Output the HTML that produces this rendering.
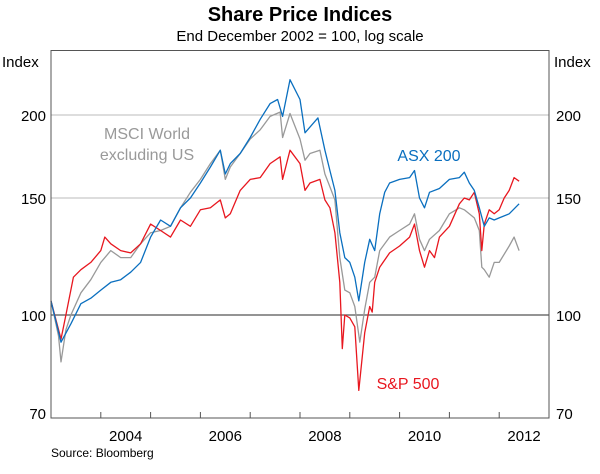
<!DOCTYPE html>
<html><head><meta charset="utf-8"><style>
body{margin:0;background:#fff;}
svg text{font-family:"Liberation Sans",Arial,sans-serif;}
</style></head><body>
<svg id="chart" width="600" height="469" viewBox="0 0 600 469" xmlns="http://www.w3.org/2000/svg">
<text x="300" y="21" text-anchor="middle" font-size="20" font-weight="bold" fill="#000">Share Price Indices</text>
<text x="300" y="41" text-anchor="middle" font-size="15" fill="#000">End December 2002 = 100, log scale</text>
<text x="2" y="67" font-size="15" fill="#000">Index</text>
<text x="554" y="67" font-size="15" fill="#000">Index</text>
<text x="51" y="457" font-size="12" fill="#000">Source: Bloomberg</text>
<g id="grid"></g>
<g id="series"></g>
<rect x="51" y="50.5" width="498" height="367.5" fill="none" stroke="#555" stroke-width="1"/>
<g id="axes"></g>
<text x="147" y="139" text-anchor="middle" font-size="16" fill="#999">MSCI World</text>
<text x="147" y="160" text-anchor="middle" font-size="16" fill="#999">excluding US</text>
<text x="429" y="161" text-anchor="middle" font-size="16" fill="#0a6fbf">ASX 200</text>
<text x="408" y="389" text-anchor="middle" font-size="16" fill="#e8171f">S&amp;P 500</text>
</svg>
<script>
const yTicks=[70,100,150,200];
const xTickYears=[2004,2005,2006,2007,2008,2009,2010,2011,2012];
const xLabelYears=[2004,2006,2008,2010,2012];
const asxT=[2003.0,2003.2,2003.4,2003.6,2003.8,2004.0,2004.2,2004.4,2004.6,2004.8,2005.0,2005.2,2005.4,2005.6,2005.8,2006.0,2006.2,2006.4,2006.5,2006.6,2006.8,2007.0,2007.2,2007.4,2007.55,2007.65,2007.8,2008.0,2008.1,2008.36,2008.5,2008.6,2008.7,2008.8,2008.9,2009.0,2009.1,2009.18,2009.3,2009.4,2009.5,2009.6,2009.7,2009.8,2010.0,2010.2,2010.3,2010.4,2010.5,2010.6,2010.8,2011.0,2011.2,2011.3,2011.4,2011.5,2011.6,2011.7,2011.8,2011.9,2012.0,2012.2,2012.4];
const asxV=[105,91,97,104,106,109,112,113,116,120,131,139,136,145,150,158,167,177,163,169,175,185,197,208,211,199,226,211,188,198,177,165,154,133,122,120,114,105,120,130,125,142,153,158,160,161,165,150,145,153,155,160,161,164,158,154,145,136,140,139,140,142,147];
const spT=[2003.0,2003.2,2003.3,2003.45,2003.6,2003.8,2004.0,2004.08,2004.2,2004.4,2004.6,2004.8,2005.0,2005.2,2005.4,2005.6,2005.8,2006.0,2006.2,2006.4,2006.5,2006.6,2006.8,2007.0,2007.2,2007.4,2007.6,2007.65,2007.8,2008.0,2008.1,2008.2,2008.4,2008.5,2008.6,2008.7,2008.8,2008.85,2008.9,2009.0,2009.1,2009.18,2009.3,2009.4,2009.45,2009.5,2009.6,2009.8,2010.0,2010.2,2010.3,2010.4,2010.5,2010.6,2010.7,2010.8,2011.0,2011.2,2011.3,2011.4,2011.5,2011.6,2011.65,2011.7,2011.8,2011.9,2012.0,2012.1,2012.2,2012.3,2012.4];
const spV=[105,92,100,114,117,120,125,131,128,125,124,128,137,134,131,139,136,144,145,149,140,142,154,160,161,169,173,160,177,169,154,158,160,149,145,133,112,89,100,99,96,77,94,103,101,112,118,124,127,131,137,125,118,125,122,131,136,147,150,149,153,142,125,137,144,142,144,150,154,161,159];
const msT=[2003.0,2003.15,2003.2,2003.3,2003.4,2003.6,2003.8,2004.0,2004.2,2004.4,2004.6,2004.8,2005.0,2005.2,2005.4,2005.6,2005.8,2006.0,2006.2,2006.4,2006.5,2006.6,2006.8,2007.0,2007.2,2007.4,2007.6,2007.65,2007.8,2008.0,2008.1,2008.2,2008.4,2008.5,2008.6,2008.7,2008.8,2008.9,2009.0,2009.1,2009.2,2009.3,2009.4,2009.5,2009.6,2009.8,2010.0,2010.2,2010.3,2010.4,2010.5,2010.6,2010.8,2011.0,2011.2,2011.3,2011.5,2011.6,2011.65,2011.7,2011.8,2011.9,2012.0,2012.2,2012.3,2012.4];
const msV=[105,93,85,95,100,108,113,120,125,122,122,128,133,134,136,145,153,160,169,177,160,167,175,184,190,199,202,185,201,184,171,175,177,163,156,149,122,109,108,103,91,102,112,114,125,131,134,137,142,130,125,130,134,142,145,144,140,134,118,117,114,120,120,127,131,125];

const NS='http://www.w3.org/2000/svg';
const X0=51,X1=549,Y100=315,K=288.6;
const xs=t=>X0+(t-2003)*(X1-X0)/10;
const ys=v=>Y100-Math.log(v/100)*K;
const grid=document.getElementById('grid'),axes=document.getElementById('axes'),ser=document.getElementById('series');
yTicks.forEach(v=>{
  const y=ys(v);
  if(v!==70){
    const l=document.createElementNS(NS,'line');
    
    
    l.setAttribute('x1',X0);l.setAttribute('x2',X1);l.setAttribute('y1',y);l.setAttribute('y2',y);
    l.setAttribute('stroke',v===100?'#555':'#bbb');l.setAttribute('stroke-width',v===100?1.3:1);
    grid.appendChild(l);
  }
  [[46,'end','left'],[556,'start','right']].forEach(([x,a,s])=>{
    const t=document.createElementNS(NS,'text');
    
    
    t.setAttribute('x',x);t.setAttribute('y',Math.min(y,413)+6);t.setAttribute('text-anchor',a);
    t.setAttribute('font-size','15');t.textContent=v;axes.appendChild(t);
  });
});
xTickYears.forEach(yr=>{
  const x=xs(yr);
  const l=document.createElementNS(NS,'line');
  
  
  l.setAttribute('x1',x);l.setAttribute('x2',x);l.setAttribute('y1',418);l.setAttribute('y2',412);
  l.setAttribute('stroke','#555');axes.appendChild(l);
});
xLabelYears.forEach(yr=>{
  const t=document.createElementNS(NS,'text');
  
  
  t.setAttribute('x',xs(yr+0.5));t.setAttribute('y',441);t.setAttribute('text-anchor','middle');
  t.setAttribute('font-size','15');t.textContent=yr;axes.appendChild(t);
});
function line(T,V,col,name){
  const p=document.createElementNS(NS,'polyline');
  
  
  p.setAttribute('points',T.map((t,i)=>xs(t).toFixed(1)+','+ys(V[i]).toFixed(1)).join(' '));
  p.setAttribute('fill','none');p.setAttribute('stroke',col);p.setAttribute('stroke-width','1.3');
  p.setAttribute('stroke-linejoin','round');
  ser.appendChild(p);
}
line(msT,msV,'#999','msci-world-ex-us-line');
line(spT,spV,'#e8171f','sp500-line');
line(asxT,asxV,'#0a6fbf','asx200-line');
</script>
</body></html>
